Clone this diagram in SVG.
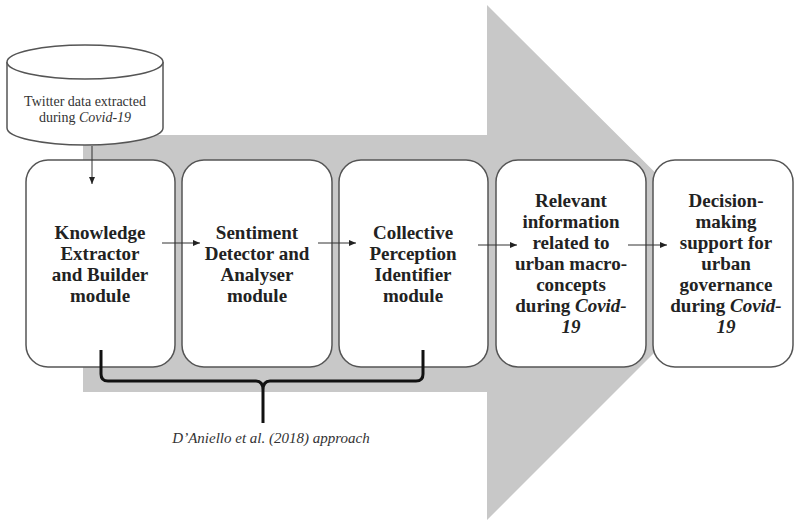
<svg xmlns="http://www.w3.org/2000/svg" width="794" height="521" viewBox="0 0 794 521" font-family="Liberation Serif">
<defs>
<style>
.box{fill:#fff;stroke:#555;stroke-width:1.5}
.t{font-family:'Liberation Serif',serif;font-weight:bold;font-size:19px;fill:#222;text-anchor:middle}
.s{font-family:'Liberation Serif',serif;font-size:14px;fill:#333;text-anchor:middle}
.cap{font-family:'Liberation Serif',serif;font-style:italic;font-size:15px;fill:#333;text-anchor:middle}
.i{font-style:italic}
.c{stroke:#333;stroke-width:1;fill:none}
</style>
<marker id="ah" markerWidth="8" markerHeight="8" refX="7" refY="4" orient="auto" markerUnits="userSpaceOnUse">
<path d="M0,1 L7,4 L0,7 Z" fill="#222"/>
</marker>
</defs>
<rect width="794" height="521" fill="#fff"/>
<polygon id="bigarrow" points="83,135 487,135 487,5 745,262 487,520 487,392 83,392" fill="#c8c8c8"/>
<g id="source">
<path d="M7,62 L7,128 A78,17 0 0 0 163,128 L163,62" class="box"/>
<ellipse cx="85" cy="62" rx="78" ry="17" class="box"/>
<text class="s" font-family="Liberation Serif" x="85" y="106">Twitter data extracted</text>
<text class="s" font-family="Liberation Serif" x="85" y="122">during <tspan class="i">Covid-19</tspan></text>
</g>
<g id="n1">
<rect class="box" x="26" y="160" width="149" height="207" rx="22"/>
<text class="t" font-family="Liberation Serif" x="100" y="239">Knowledge</text>
<text class="t" font-family="Liberation Serif" x="100" y="260">Extractor</text>
<text class="t" font-family="Liberation Serif" x="100" y="281">and Builder</text>
<text class="t" font-family="Liberation Serif" x="100" y="302">module</text>
</g>
<g id="n2">
<rect class="box" x="182" y="160" width="150" height="207" rx="22"/>
<text class="t" font-family="Liberation Serif" x="257" y="239">Sentiment</text>
<text class="t" font-family="Liberation Serif" x="257" y="260">Detector and</text>
<text class="t" font-family="Liberation Serif" x="257" y="281">Analyser</text>
<text class="t" font-family="Liberation Serif" x="257" y="302">module</text>
</g>
<g id="n3">
<rect class="box" x="339" y="160" width="149" height="207" rx="22"/>
<text class="t" font-family="Liberation Serif" x="413" y="239">Collective</text>
<text class="t" font-family="Liberation Serif" x="413" y="260">Perception</text>
<text class="t" font-family="Liberation Serif" x="413" y="281">Identifier</text>
<text class="t" font-family="Liberation Serif" x="413" y="302">module</text>
</g>
<g id="n4">
<rect class="box" x="496" y="160" width="150" height="207" rx="22"/>
<text class="t" font-family="Liberation Serif" x="571" y="207">Relevant</text>
<text class="t" font-family="Liberation Serif" x="571" y="228">information</text>
<text class="t" font-family="Liberation Serif" x="571" y="249">related to</text>
<text class="t" font-family="Liberation Serif" x="571" y="270">urban macro-</text>
<text class="t" font-family="Liberation Serif" x="571" y="291">concepts</text>
<text class="t" font-family="Liberation Serif" x="571" y="312">during <tspan class="i">Covid-</tspan></text>
<text class="t i" font-family="Liberation Serif" x="571" y="333">19</text>
</g>
<g id="n5">
<rect class="box" x="653" y="160" width="140" height="207" rx="22"/>
<text class="t" font-family="Liberation Serif" x="726" y="207">Decision-</text>
<text class="t" font-family="Liberation Serif" x="726" y="228">making</text>
<text class="t" font-family="Liberation Serif" x="726" y="249">support for</text>
<text class="t" font-family="Liberation Serif" x="726" y="270">urban</text>
<text class="t" font-family="Liberation Serif" x="726" y="291">governance</text>
<text class="t" font-family="Liberation Serif" x="726" y="312">during <tspan class="i">Covid-</tspan></text>
<text class="t i" font-family="Liberation Serif" x="726" y="333">19</text>
</g>
<g id="connectors">
<line class="c" marker-end="url(#ah)" x1="92" y1="146" x2="92" y2="184"/>
<line class="c" marker-end="url(#ah)" x1="162" y1="243" x2="200" y2="243"/>
<line class="c" marker-end="url(#ah)" x1="318" y1="243" x2="356" y2="243"/>
<line class="c" marker-end="url(#ah)" x1="478" y1="245" x2="517" y2="245"/>
<line class="c" marker-end="url(#ah)" x1="628" y1="245" x2="667" y2="245"/>
</g>
<g id="brace">
<path d="M101,350 L101,374 Q101,381 108,381 L256,381 Q263,381 263,390 L263,423 M263,390 Q263,381 270,381 L416,381 Q423,381 423,374 L423,350" fill="none" stroke="#111" stroke-width="3"/>
<text class="cap" font-family="Liberation Serif" x="271" y="443">D’Aniello et al. (2018) approach</text>
</g>
</svg>
